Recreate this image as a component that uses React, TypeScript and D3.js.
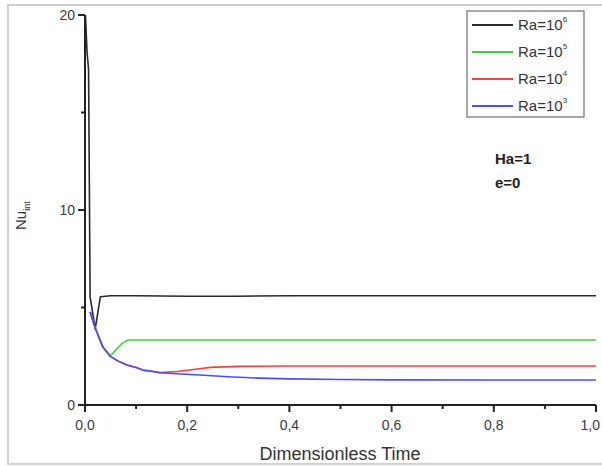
import React from "react";
import * as d3 from "d3";

const seriesNames = ["6", "5", "4", "3"];
const seriesColors = ["#2a2a2a", "#3fd43f", "#ff3c3c", "#4b4bff"];

const timeRa6 = [0.0, 0.004, 0.007, 0.01, 0.02, 0.03, 0.05, 0.1, 0.2, 0.3, 0.4, 0.5, 0.6, 0.7, 0.8, 0.9, 1.0];
const nuRa6 = [20.5, 18.1, 17.2, 5.55, 3.9, 5.55, 5.6, 5.6, 5.58, 5.58, 5.6, 5.6, 5.6, 5.6, 5.6, 5.6, 5.6];

const timeRa5 = [0.01, 0.02, 0.035, 0.049, 0.06, 0.072, 0.084, 0.1, 0.2, 0.3, 0.4, 0.6, 0.8, 1.0];
const nuRa5 = [4.77, 3.95, 2.97, 2.51, 2.8, 3.15, 3.33, 3.33, 3.33, 3.33, 3.33, 3.33, 3.33, 3.33];

const timeRa4 = [0.01, 0.02, 0.035, 0.049, 0.065, 0.082, 0.1, 0.113, 0.127, 0.147, 0.18, 0.22, 0.245, 0.3, 0.4, 0.6, 0.8, 1.0];
const nuRa4 = [4.77, 3.95, 2.97, 2.51, 2.25, 2.05, 1.92, 1.79, 1.74, 1.66, 1.72, 1.85, 1.93, 1.98, 2.0, 2.0, 2.0, 2.0];

const timeRa3 = [0.01, 0.02, 0.035, 0.049, 0.065, 0.082, 0.1, 0.113, 0.127, 0.147, 0.18, 0.225, 0.28, 0.342, 0.4, 0.5, 0.6, 0.8, 1.0];
const nuRa3 = [4.77, 3.95, 2.97, 2.51, 2.25, 2.05, 1.92, 1.79, 1.74, 1.65, 1.6, 1.54, 1.45, 1.38, 1.34, 1.31, 1.29, 1.28, 1.28];

const xMajor = [0, 0.2, 0.4, 0.6, 0.8, 1.0];
const xMinor = [0.1, 0.3, 0.5, 0.7, 0.9];
const xTickLabels = ["0,0", "0,2", "0,4", "0,6", "0,8", "1,0"];
const yMajor = [0, 10, 20];
const yMinor = [5, 15];

export default function App() {
  const W = 602, H = 466;
  const x = d3.scaleLinear().domain([0, 1]).range([85, 596]);
  const y = d3.scaleLinear().domain([0, 20]).range([405, 15]);
  const line = d3.line<[number, number]>().x(d => x(d[0])).y(d => y(d[1]));
  const series = [
    { t: timeRa6, v: nuRa6 },
    { t: timeRa5, v: nuRa5 },
    { t: timeRa4, v: nuRa4 },
    { t: timeRa3, v: nuRa3 },
  ];
  const drawOrder = [0, 1, 2, 3];
  const font = "'Liberation Sans', Arial, sans-serif";
  const axisColor = "#222";
  const textColor = "#3a3a3a";
  return (
    <svg width={W} height={H} style={{ position: "absolute", left: 0, top: 0, background: "#fff" }} fontFamily={font}>
      <defs>
        <clipPath id="plot">
          <rect x={85} y={15} width={512} height={391} />
        </clipPath>
      </defs>
      {/* outer frame */}
      <rect x={8} y={5} width={620} height={459} fill="#fff" stroke="#cfcfcf" strokeWidth={2} />
      {/* series */}
      <g clipPath="url(#plot)">
        {drawOrder.map(i => (
          <path key={i} d={line(series[i].t.map((t, k) => [t, series[i].v[k]] as [number, number])) || ""}
            fill="none" stroke={seriesColors[i]} strokeWidth={1.6} strokeLinejoin="round" />
        ))}
      </g>
      {/* axes */}
      <line x1={x(0)} x2={x(0)} y1={y(20)} y2={y(0)} stroke={axisColor} strokeWidth={2} />
      <line x1={x(0)} x2={x(1)} y1={y(0)} y2={y(0)} stroke={axisColor} strokeWidth={2} />
      {yMajor.map(v => (
        <g key={"ym" + v}>
          <line x1={x(0) - 7} x2={x(0)} y1={y(v)} y2={y(v)} stroke={axisColor} strokeWidth={2} />
          <text x={x(0) - 10} y={y(v) + 5} textAnchor="end" fontSize={14} fill={textColor}>{v}</text>
        </g>
      ))}
      {yMinor.map(v => (
        <line key={"yn" + v} x1={x(0) - 4} x2={x(0)} y1={y(v)} y2={y(v)} stroke={axisColor} strokeWidth={2} />
      ))}
      {xMajor.map((v, i) => {
        const last = i === xMajor.length - 1;
        return (
          <g key={"xm" + v}>
            <line x1={x(v)} x2={x(v)} y1={y(0)} y2={y(0) + 7} stroke={axisColor} strokeWidth={2} />
            <text x={last ? 600 : x(v)} y={y(0) + 25} textAnchor={last ? "end" : "middle"} fontSize={14} fill={textColor}>{xTickLabels[i]}</text>
          </g>
        );
      })}
      {xMinor.map(v => (
        <line key={"xn" + v} x1={x(v)} x2={x(v)} y1={y(0)} y2={y(0) + 4} stroke={axisColor} strokeWidth={2} />
      ))}
      {/* axis titles */}
      <text x={340} y={460} textAnchor="middle" fontSize={18} fill="#333">Dimensionless Time</text>
      <text transform="translate(26,230) rotate(-90)" fontSize={15} fill="#333">
        Nu<tspan fontSize={9} dy={4}>int</tspan>
      </text>
      {/* legend */}
      <rect x={467} y={11} width={117} height={106} fill="#fff" stroke="#8a8a8a" strokeWidth={1.5} />
      {seriesNames.map((n, i) => {
        const ly = 25 + i * 27;
        return (
          <g key={"lg" + n}>
            <line x1={472} x2={513} y1={ly} y2={ly} stroke={seriesColors[i]} strokeWidth={2} />
            <text x={518} y={ly + 5} fontSize={15} fill="#333">
              Ra=10<tspan fontSize={8} dy={-8}>{n}</tspan>
            </text>
          </g>
        );
      })}
      {/* annotation */}
      <text x={495} y={164} fontSize={15} fontWeight="bold" fill="#222">Ha=1</text>
      <text x={495} y={188} fontSize={15} fontWeight="bold" fill="#222">e=0</text>
    </svg>
  );
}
